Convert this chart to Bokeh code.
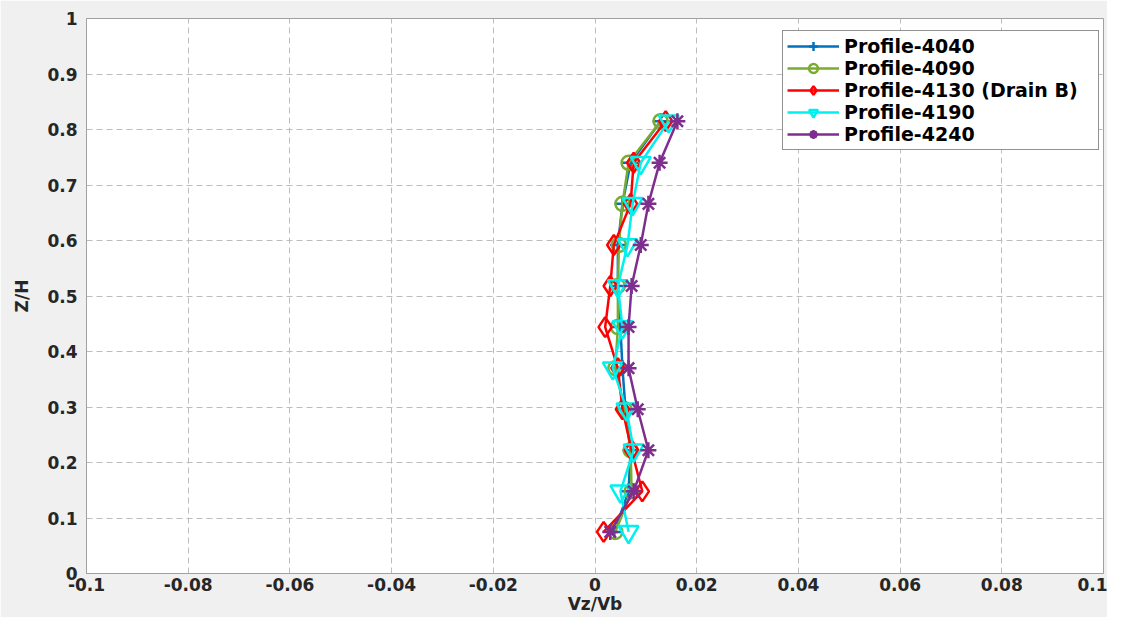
from bokeh.plotting import figure
from bokeh.models import FixedTicker, Legend, LegendItem
from bokeh.embed import file_html
from bokeh.resources import INLINE

z_h = [0.075, 0.148, 0.222, 0.296, 0.370, 0.444, 0.518, 0.592, 0.666, 0.740, 0.815]

p4040 = [0.0038, 0.0066, 0.0070, 0.0060, 0.0054, 0.0050, 0.0045, 0.0045, 0.0054, 0.0070, 0.0129]
p4090 = [0.0040, 0.0072, 0.0070, 0.0058, 0.0040, 0.0045, 0.0045, 0.0047, 0.0054, 0.0066, 0.0129]
p4130 = [0.0017, 0.0093, 0.0072, 0.0054, 0.0045, 0.0020, 0.0030, 0.0037, 0.0070, 0.0076, 0.0139]
p4190 = [0.0066, 0.0050, 0.0076, 0.0062, 0.0035, 0.0054, 0.0045, 0.0064, 0.0074, 0.0090, 0.0145]
p4240 = [0.0030, 0.0076, 0.0105, 0.0084, 0.0066, 0.0066, 0.0072, 0.0090, 0.0105, 0.0127, 0.0162]

names = ["Profile-4040", "Profile-4090", "Profile-4130 (Drain B)", "Profile-4190", "Profile-4240"]
series = [p4040, p4090, p4130, p4190, p4240]
colors = ["#0072BD", "#77AC30", "#FF0000", "#00F0F0", "#7E2F8E"]
markers = ["cross", "circle", "diamond", "inverted_triangle", "asterisk"]
msizes = [16, 14, 20, 20, 16]

x_ticks = [-0.1, -0.08, -0.06, -0.04, -0.02, 0, 0.02, 0.04, 0.06, 0.08, 0.1]
x_labels = ["-0.1", "-0.08", "-0.06", "-0.04", "-0.02", "0", "0.02", "0.04", "0.06", "0.08", "0.1"]
y_ticks = [0, 0.1, 0.2, 0.3, 0.4, 0.5, 0.6, 0.7, 0.8, 0.9, 1]
y_labels = ["0", "0.1", "0.2", "0.3", "0.4", "0.5", "0.6", "0.7", "0.8", "0.9", "1"]

FONT = "DejaVu Sans"

p = figure(width=1107, height=617, x_range=(-0.1, 0.1), y_range=(0, 1),
           output_backend="svg", toolbar_location=None,
           min_border_left=86, min_border_right=4, min_border_top=18, min_border_bottom=44)
p.border_fill_color = "#f0f0f0"
p.background_fill_color = "white"
p.outline_line_color = "#a0a0a0"
p.outline_line_width = 1

for ax, ticks, labels in ((p.xaxis[0], x_ticks, x_labels), (p.yaxis[0], y_ticks, y_labels)):
    ax.ticker = FixedTicker(ticks=ticks)
    ax.major_label_overrides = {t: l for t, l in zip(ticks, labels)}
    ax.major_label_text_font = FONT
    ax.major_label_text_font_style = "bold"
    ax.major_label_text_font_size = "17px"
    ax.major_label_text_color = "#262626"
    ax.axis_line_color = "#a0a0a0"
    ax.major_tick_in = 0
    ax.major_tick_out = 0
    ax.minor_tick_in = 0
    ax.minor_tick_out = 0
    ax.axis_label_text_font = FONT
    ax.axis_label_text_font_style = "bold"
    ax.axis_label_text_font_size = "17px"
    ax.axis_label_text_color = "#262626"

p.xaxis.major_label_standoff = 4
p.yaxis.major_label_standoff = 9
p.xaxis.axis_label = "Vz/Vb"
p.yaxis.axis_label = "Z/H"
p.xaxis.axis_label_standoff = 0
p.yaxis.axis_label_standoff = 12

p.grid.grid_line_color = "#bdbdbd"
p.grid.grid_line_dash = "6 4"
p.grid.grid_line_width = 1
p.xgrid.ticker = FixedTicker(ticks=x_ticks)
p.ygrid.ticker = FixedTicker(ticks=y_ticks)

items = []
for name, xs, c, m, s in zip(names, series, colors, markers, msizes):
    r1 = p.line(xs, z_h, line_color=c, line_width=2.5)
    r2 = p.scatter(xs, z_h, marker=m, size=s, line_color=c, fill_color=None, line_width=2.5)
    items.append(LegendItem(label=name, renderers=[r1, r2]))

legend = Legend(items=items, location=(696, 423))
legend.label_text_font = FONT
legend.label_text_font_style = "bold"
legend.label_text_font_size = "19px"
legend.label_text_color = "black"
legend.label_height = 22
legend.glyph_height = 22
legend.glyph_width = 52
legend.label_width = 250
legend.label_standoff = 5
legend.spacing = 0
legend.padding = 4
legend.margin = 0
legend.border_line_color = "#262626"
legend.border_line_width = 1
legend.background_fill_color = "white"
legend.background_fill_alpha = 1
p.add_layout(legend, "center")

open("out.html", "w").write(file_html(p, INLINE))
